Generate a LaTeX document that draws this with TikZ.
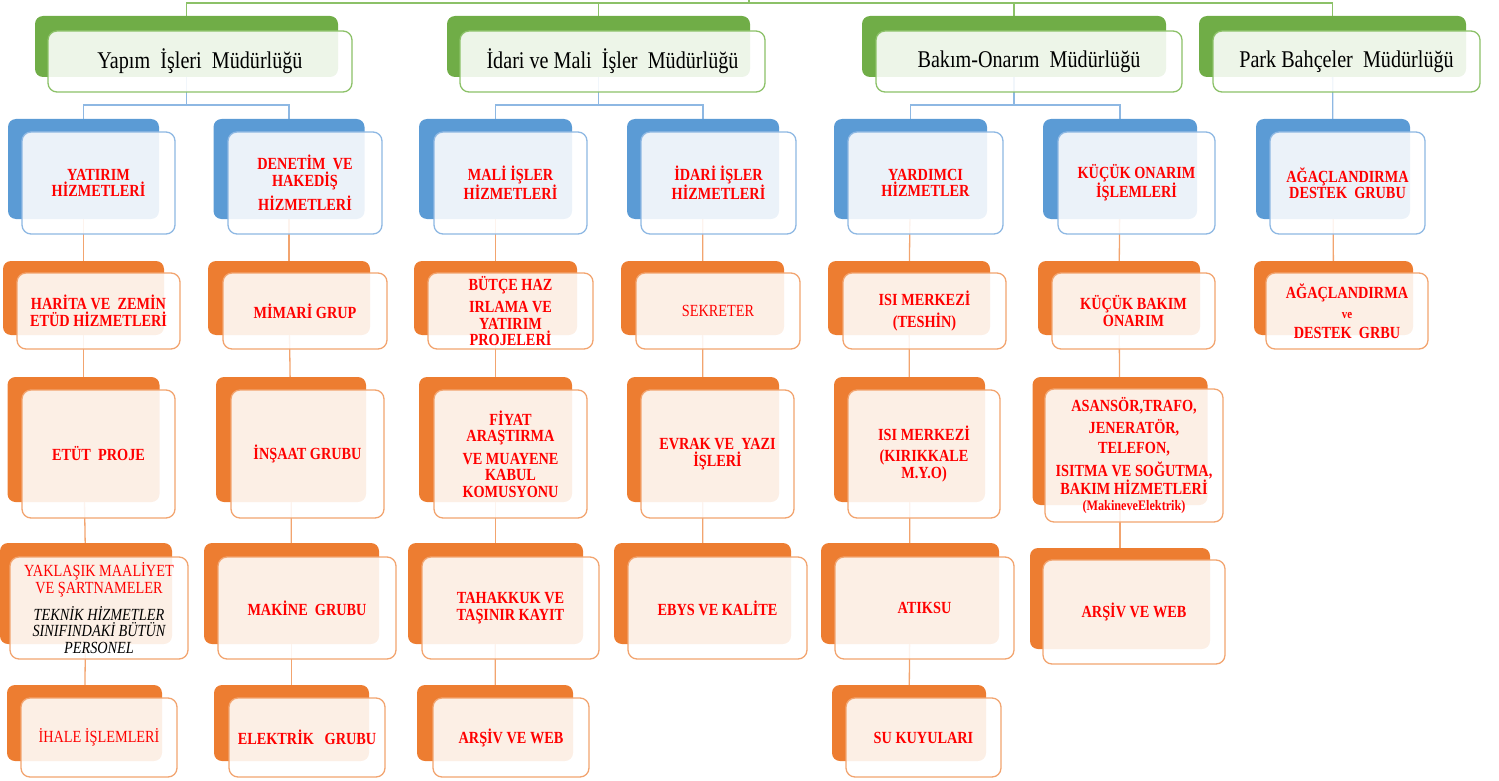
\documentclass[tikz,border=0pt]{standalone}
\usepackage{fontspec}
\setmainfont{Liberation Serif}[FakeStretch=0.84]
\usetikzlibrary{backgrounds}

\definecolor{grback}{HTML}{70AD47}
\definecolor{grline}{HTML}{8CC168}
\definecolor{blback}{HTML}{5B9BD5}
\definecolor{blline}{HTML}{8EB8E3}
\definecolor{orback}{HTML}{ED7D31}
\definecolor{orline}{HTML}{F2A46F}
\definecolor{redtext}{HTML}{FF0000}

\begin{document}
\begin{tikzpicture}[
        x=1pt, y=-1pt,
        greenback/.style={
            rectangle,
            rounded corners=8pt,
            fill=grback,
            inner sep=0pt,
        },
        greenfront/.style={
            rectangle,
            rounded corners=9pt,
            draw=grline,
            line width=1.3pt,
            fill=white,
            fill opacity=0.88,
            text opacity=1,
            inner sep=0pt,
            font=\fontsize{24}{26}\selectfont,
        },
        blueback/.style={greenback, fill=blback},
        bluefront/.style={greenfront, draw=blline, align=center,
            text=redtext, font=\bfseries\fontsize{17}{16.5}\selectfont},
        orangeback/.style={greenback, fill=orback},
        orangefront/.style={bluefront, draw=orline},
        greenlink/.style={draw=grline, line width=1.3pt},
        bluelink/.style={draw=blline, line width=1.3pt},
        orangelink/.style={draw=orline, line width=1.3pt},
    ]
    \useasboundingbox (0,0) rectangle (1499,781);

    % mudurlukler
    \node (yapimbg) at (186.5,46.5) [greenback, minimum width=303pt, minimum height=61pt] {};
    \node (yapim) at (200,61.5) [greenfront, minimum width=304pt, minimum height=61pt] {Yapım~ İşleri~ Müdürlüğü};
    \node (idarimalibg) at (598.5,46.5) [greenback, minimum width=303pt, minimum height=61pt] {};
    \node (idarimali) at (612.5,61.5) [greenfront, minimum width=305pt, minimum height=61pt] {İdari ve Mali~ İşler~ Müdürlüğü};
    \node (bakimonarimbg) at (1014,46.5) [greenback, minimum width=304pt, minimum height=61pt] {};
    \node (bakimonarim) at (1029,61.5) [greenfront, minimum width=306pt, minimum height=61pt] {Bakım-Onarım~ Müdürlüğü};
    \node (parkbg) at (1332.5,46.5) [greenback, minimum width=267pt, minimum height=61pt] {};
    \node (park) at (1346.5,61.5) [greenfront, minimum width=267pt, minimum height=61pt] {Park Bahçeler~ Müdürlüğü};

    % hizmetler
    \node (yatirimbg) at (83.5,169) [blueback, minimum width=151pt, minimum height=100pt] {};
    \node (yatirim) at (98.5,183) [bluefront, minimum width=153pt, minimum height=102pt] {YATIRIM\\HİZMETLERİ};
    \node (denetimbg) at (289,169) [blueback, minimum width=151pt, minimum height=100pt] {};
    \node (denetim) at (305,183) [bluefront, minimum width=154pt, minimum height=102pt] {DENETİM~ VE\\HAKEDİŞ\\[5pt]HİZMETLERİ};
    \node (maliislerbg) at (495.5,169) [blueback, minimum width=153pt, minimum height=100pt] {};
    \node (maliisler) at (510.5,183) [bluefront, minimum width=153pt, minimum height=102pt] {MALİ İŞLER\\HİZMETLERİ};
    \node (idariislerbg) at (703,169) [blueback, minimum width=152pt, minimum height=100pt] {};
    \node (idariisler) at (718.5,183) [bluefront, minimum width=155pt, minimum height=102pt] {İDARİ İŞLER\\HİZMETLERİ};
    \node (yardimcibg) at (910.5,169) [blueback, minimum width=153pt, minimum height=100pt] {};
    \node (yardimci) at (925.5,183) [bluefront, minimum width=155pt, minimum height=102pt] {YARDIMCI\\HİZMETLER};
    \node (kucukonarimbg) at (1120,169) [blueback, minimum width=154pt, minimum height=100pt] {};
    \node (kucukonarim) at (1136.5,183) [bluefront, minimum width=157pt, minimum height=102pt] {KÜÇÜK ONARIM\\İŞLEMLERİ};
    \node (agacdestekbg) at (1333,169) [blueback, minimum width=154pt, minimum height=100pt] {};
    \node (agacdestek) at (1347.5,183) [bluefront, minimum width=155pt, minimum height=102pt] {AĞAÇLANDIRMA\\DESTEK~ GRUBU};

    % birimler, 1. sira
    \node (haritabg) at (83.5,298) [orangeback, minimum width=161pt, minimum height=74pt] {};
    \node (harita) at (98.5,311) [orangefront, minimum width=163pt, minimum height=76pt] {HARİTA VE~ ZEMİN\\ETÜD HİZMETLERİ};
    \node (mimaribg) at (289,298) [orangeback, minimum width=162pt, minimum height=74pt] {};
    \node (mimari) at (305,311) [orangefront, minimum width=164pt, minimum height=76pt] {MİMARİ GRUP};
    \node (butcebg) at (495.5,298) [orangeback, minimum width=163pt, minimum height=74pt] {};
    \node (butce) at (510.5,311) [orangefront, minimum width=165pt, minimum height=76pt] {BÜTÇE HAZ\\[6pt]IRLAMA VE\\YATIRIM\\PROJELERİ};
    \node (sekreterbg) at (702.5,298) [orangeback, minimum width=163pt, minimum height=74pt] {};
    \node (sekreter) at (718,311) [orangefront, minimum width=164pt, minimum height=76pt] {\mdseries SEKRETER};
    \node (teshinbg) at (909,298) [orangeback, minimum width=162pt, minimum height=74pt] {};
    \node (teshin) at (924.5,311) [orangefront, minimum width=163pt, minimum height=76pt] {ISI MERKEZİ\\[5pt](TESHİN)};
    \node (kucukbakimbg) at (1119,298) [orangeback, minimum width=162pt, minimum height=74pt] {};
    \node (kucukbakim) at (1133.5,311) [orangefront, minimum width=163pt, minimum height=76pt] {KÜÇÜK BAKIM\\ONARIM};
    \node (agacgrbubg) at (1333.5,298) [orangeback, minimum width=159pt, minimum height=74pt] {};
    \node (agacgrbu) at (1347,311) [orangefront, minimum width=162pt, minimum height=76pt] {AĞAÇLANDIRMA\\[4pt]{\fontsize{13}{13}\selectfont ve}\\[3pt]DESTEK~ GRBU};

    % 2. sira
    \node (etutbg) at (83.5,439.5) [orangeback, minimum width=152pt, minimum height=125pt] {};
    \node (etut) at (98.5,454) [orangefront, minimum width=153pt, minimum height=128pt] {ETÜT~ PROJE};
    \node (insaatbg) at (291,439.5) [orangeback, minimum width=150pt, minimum height=125pt] {};
    \node (insaat) at (307.5,454) [orangefront, minimum width=153pt, minimum height=128pt] {İNŞAAT GRUBU};
    \node (fiyatbg) at (495.5,439.5) [orangeback, minimum width=153pt, minimum height=125pt] {};
    \node (fiyat) at (510.5,454) [orangefront, minimum width=153pt, minimum height=128pt] {FİYAT\\ARAŞTIRMA\\[6pt]VE MUAYENE\\KABUL\\KOMUSYONU};
    \node (evrakbg) at (703,439.5) [orangeback, minimum width=152pt, minimum height=125pt] {};
    \node (evrak) at (717.5,454) [orangefront, minimum width=153pt, minimum height=128pt] {EVRAK VE~ YAZI\\İŞLERİ};
    \node (kirikkalebg) at (909.5,439.5) [orangeback, minimum width=151pt, minimum height=125pt] {};
    \node (kirikkale) at (924,454) [orangefront, minimum width=152pt, minimum height=128pt] {ISI MERKEZİ\\[5pt](KIRIKKALE\\M.Y.O)};
    \node (asansorbg) at (1120,441) [orangeback, minimum width=175pt, minimum height=128pt] {};
    \node (asansor) at (1134,455.5) [orangefront, minimum width=178pt, minimum height=133pt] {ASANSÖR,TRAFO,\\[4pt]JENERATÖR,\\[4pt]TELEFON,\\[4pt]ISITMA VE SOĞUTMA,\\BAKIM HİZMETLERİ\\{\fontsize{14.5}{14}\selectfont(MakineveElektrik)}};

    % 3. sira
    \node (yaklasikbg) at (86,593.5) [orangeback, minimum width=172pt, minimum height=101pt] {};
    \node (yaklasik) at (99,608) [orangefront, minimum width=178pt, minimum height=102pt] {\mdseries YAKLAŞIK MAALİYET\\\mdseries VE ŞARTNAMELER\\[8pt]\color{black}\mdseries\itshape TEKNİK HİZMETLER\\\color{black}\mdseries\itshape SINIFINDAKİ BÜTÜN\\\color{black}\mdseries\itshape PERSONEL};
    \node (makinebg) at (291.5,593.5) [orangeback, minimum width=175pt, minimum height=101pt] {};
    \node (makine) at (307,608) [orangefront, minimum width=178pt, minimum height=102pt] {MAKİNE~ GRUBU};
    \node (tahakkukbg) at (495.5,593.5) [orangeback, minimum width=175pt, minimum height=101pt] {};
    \node (tahakkuk) at (510.5,608) [orangefront, minimum width=177pt, minimum height=102pt] {TAHAKKUK VE\\TAŞINIR KAYIT};
    \node (ebysbg) at (702.5,593.5) [orangeback, minimum width=177pt, minimum height=101pt] {};
    \node (ebys) at (717.5,608) [orangefront, minimum width=179pt, minimum height=102pt] {EBYS VE KALİTE};
    \node (atiksubg) at (910,593.5) [orangeback, minimum width=178pt, minimum height=101pt] {};
    \node (atiksu) at (924.5,608) [orangefront, minimum width=179pt, minimum height=102pt] {ATIKSU};
    \node (arsivwebbg) at (1120,598.5) [orangeback, minimum width=180pt, minimum height=101pt] {};
    \node (arsivweb) at (1134,612) [orangefront, minimum width=182pt, minimum height=104pt] {ARŞİV VE WEB};

    % 4. sira
    \node (ihalebg) at (84.5,723) [orangeback, minimum width=155pt, minimum height=76pt] {};
    \node (ihale) at (99,737.5) [orangefront, minimum width=156pt, minimum height=79pt] {\mdseries İHALE İŞLEMLERİ};
    \node (elektrikbg) at (291.5,723) [orangeback, minimum width=155pt, minimum height=76pt] {};
    \node (elektrik) at (307,737.5) [orangefront, minimum width=156pt, minimum height=79pt] {ELEKTRİK~~ GRUBU};
    \node (arsivbg) at (495,723) [orangeback, minimum width=156pt, minimum height=76pt] {};
    \node (arsiv) at (511,737.5) [orangefront, minimum width=156pt, minimum height=79pt] {ARŞİV VE WEB};
    \node (sukuyubg) at (909,723) [orangeback, minimum width=154pt, minimum height=76pt] {};
    \node (sukuyu) at (923.5,737.5) [orangefront, minimum width=155pt, minimum height=79pt] {SU KUYULARI};

    \begin{scope}[on background layer]
    \coordinate (top) at (749,0);
    \coordinate (topbar) at (749,3);
    \draw [greenlink] (top) -- (topbar);
    \draw [greenlink] (topbar) -| (yapimbg);
    \draw [greenlink] (topbar) -| (idarimalibg);
    \draw [greenlink] (topbar) -| (bakimonarimbg);
    \draw [greenlink] (topbar) -| (parkbg);

    \coordinate (yapimbar) at (186.5,105);
    \coordinate (idarimalibar) at (598.5,105);
    \coordinate (bakimonarimbar) at (1014,105);
    \draw [bluelink] (yapimbg) -- (yapimbar);
    \draw [bluelink] (yapimbar) -| (yatirimbg);
    \draw [bluelink] (yapimbar) -| (denetimbg);
    \draw [bluelink] (idarimalibg) -- (idarimalibar);
    \draw [bluelink] (idarimalibar) -| (maliislerbg);
    \draw [bluelink] (idarimalibar) -| (idariislerbg);
    \draw [bluelink] (bakimonarimbg) -- (bakimonarimbar);
    \draw [bluelink] (bakimonarimbar) -| (yardimcibg);
    \draw [bluelink] (bakimonarimbar) -| (kucukonarimbg);
    \draw [bluelink] (parkbg) -- (agacdestekbg);

    \draw [orangelink] (yatirimbg) -- (haritabg);
    \draw [orangelink] (haritabg) -- (etutbg);
    \draw [orangelink] (etutbg) -- (yaklasikbg);
    \draw [orangelink] (yaklasikbg) -- (ihalebg);
    \draw [orangelink] (denetimbg) -- (mimaribg);
    \draw [orangelink] (mimaribg) -- (insaatbg);
    \draw [orangelink] (insaatbg) -- (makinebg);
    \draw [orangelink] (makinebg) -- (elektrikbg);
    \draw [orangelink] (maliislerbg) -- (butcebg);
    \draw [orangelink] (butcebg) -- (fiyatbg);
    \draw [orangelink] (fiyatbg) -- (tahakkukbg);
    \draw [orangelink] (tahakkukbg) -- (arsivbg);
    \draw [orangelink] (idariislerbg) -- (sekreterbg);
    \draw [orangelink] (sekreterbg) -- (evrakbg);
    \draw [orangelink] (evrakbg) -- (ebysbg);
    \draw [orangelink] (yardimcibg) -- (teshinbg);
    \draw [orangelink] (teshinbg) -- (kirikkalebg);
    \draw [orangelink] (kirikkalebg) -- (atiksubg);
    \draw [orangelink] (atiksubg) -- (sukuyubg);
    \draw [orangelink] (kucukonarimbg) -- (kucukbakimbg);
    \draw [orangelink] (kucukbakimbg) -- (asansorbg);
    \draw [orangelink] (asansorbg) -- (arsivwebbg);
    \draw [orangelink] (agacdestekbg) -- (agacgrbubg);
    \end{scope}

\end{tikzpicture}
\end{document}
